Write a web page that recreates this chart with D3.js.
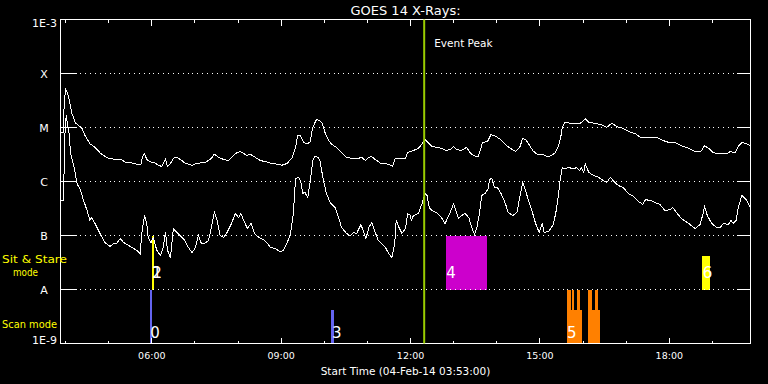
<!DOCTYPE html>
<html><head><meta charset="utf-8">
<script src="https://cdn.jsdelivr.net/npm/d3@7"></script>
<style>
html,body{margin:0;padding:0;background:#000;}
svg{display:block;}
text{font-family:"DejaVu Sans",sans-serif;fill:#fff;}
</style></head><body>
<svg id="chart" width="768" height="384"></svg>
<script>
// ---------- data ----------
const titleText = "GOES 14 X-Rays:";
const xLabelText = "Start Time (04-Feb-14 03:53:00)";
const startTime = "03:53", endTime = "19:53";
const majorTickHours = ["06:00","09:00","12:00","15:00","18:00"];
const yTickValues = [1e-9,1e-8,1e-7,1e-6,1e-5,1e-4,1e-3];
const yTickLabels = ["1E-9","A","B","C","M","X","1E-3"];
const peakTime = "12:19";
const peakLabel = "Event Peak";

const longTimes = [
"03:54","03:57","03:58","04:00","04:04","04:09","04:14","04:18","04:23","04:27",
"04:34","04:41","04:48","04:55","05:00","05:07","05:16","05:23","05:32","05:39",
"05:45","05:47","05:50","05:53","05:58","06:05","06:09","06:14","06:19","06:22",
"06:26","06:30","06:35","06:40","06:46","06:56","07:00","07:07","07:16","07:23",
"07:27","07:33","07:40","07:47","07:51","07:58","08:03","08:08","08:12","08:17",
"08:24","08:31","08:40","08:47","08:54","09:01","09:08","09:15","09:20","09:23",
"09:27","09:31","09:36","09:40","09:44","09:49","09:53","09:57","10:01","10:06",
"10:11","10:17","10:24","10:31","10:38","10:48","10:52","10:57","11:02","11:06",
"11:11","11:18","11:25","11:32","11:35","11:39","11:46","11:53","11:56","12:00",
"12:04","12:11","12:16","12:20","12:24","12:30","12:36","12:43","12:50","12:55",
"13:00","13:04","13:11","13:18","13:23","13:28","13:34","13:37","13:40","13:47",
"13:52","13:59","14:05","14:12","14:19","14:26","14:32","14:36","14:40","14:45",
"14:50","14:56","15:03","15:10","15:16","15:21","15:26","15:30","15:31","15:35",
"15:42","15:49","15:56","16:01","16:03","16:08","16:17","16:28","16:33","16:40",
"16:47","16:56","17:06","17:13","17:20","17:43","17:52","17:59","18:08","18:17",
"18:27","18:36","18:44","18:49","18:55","19:01","19:08","19:20","19:25","19:32",
"19:35","19:41","19:48","19:53"];
const longFlux = [
8.1e-6,8.1e-6,2.5e-5,5.3e-5,3.9e-5,1.8e-5,1.2e-5,1.1e-5,9.6e-6,7.1e-6,
5.0e-6,4.3e-6,3.4e-6,2.9e-6,2.7e-6,2.6e-6,2.6e-6,2.3e-6,2.2e-6,2.1e-6,
2.1e-6,2.8e-6,3.3e-6,2.55e-6,2.3e-6,2.2e-6,2.0e-6,1.9e-6,2.55e-6,1.9e-6,
2.15e-6,2.7e-6,2.8e-6,2.55e-6,2.2e-6,2.0e-6,2.1e-6,2.2e-6,2.3e-6,2.7e-6,
3.2e-6,2.8e-6,2.55e-6,2.45e-6,2.8e-6,3.4e-6,3.6e-6,3.3e-6,3.0e-6,3.2e-6,
2.8e-6,2.45e-6,2.3e-6,2.15e-6,2.1e-6,2.0e-6,2.15e-6,2.7e-6,4.3e-6,7.1e-6,
7.1e-6,5.3e-6,5.0e-6,5.3e-6,1.0e-5,1.4e-5,1.35e-5,1.2e-5,8.1e-6,5.7e-6,
4.8e-6,4.3e-6,3.4e-6,2.8e-6,2.7e-6,2.7e-6,2.8e-6,2.45e-6,2.8e-6,2.9e-6,
2.55e-6,2.2e-6,2.15e-6,2.0e-6,1.9e-6,2.7e-6,2.7e-6,2.7e-6,3.4e-6,3.6e-6,
3.75e-6,4.1e-6,5.0e-6,6.0e-6,5.3e-6,4.45e-6,4.3e-6,4.1e-6,3.75e-6,3.9e-6,
4.45e-6,3.9e-6,3.75e-6,4.3e-6,3.4e-6,3.0e-6,2.9e-6,3.75e-6,5.3e-6,5.5e-6,
7.4e-6,6.8e-6,6.0e-6,4.8e-6,4.1e-6,3.6e-6,4.3e-6,6.3e-6,6.0e-6,4.8e-6,
3.75e-6,3.2e-6,3.2e-6,2.9e-6,3.0e-6,3.4e-6,4.6e-6,7.7e-6,1.0e-5,1.24e-5,
1.2e-5,1.2e-5,1.2e-5,1.35e-5,1.47e-5,1.24e-5,1.2e-5,1.1e-5,1.0e-5,1.2e-5,
1.04e-5,9.6e-6,8.1e-6,7.7e-6,6.5e-6,6.5e-6,5.7e-6,5.3e-6,5.3e-6,4.6e-6,
4.1e-6,3.6e-6,3.6e-6,4.6e-6,4.1e-6,3.4e-6,3.3e-6,3.3e-6,3.6e-6,3.4e-6,
4.3e-6,5.3e-6,5.0e-6,4.6e-6];

const shortTimes = [
"03:54","03:57","03:58","03:59","04:01","04:02","04:05","04:07","04:12","04:16",
"04:21","04:25","04:30","04:34","04:36","04:41","04:48","04:55","05:02","05:07",
"05:11","05:16","05:21","05:30","05:39","05:44","05:46","05:50","05:53","05:55",
"05:59","06:02","06:07","06:12","06:16","06:19","06:22","06:26","06:30","06:35",
"06:42","06:46","06:51","06:56","07:00","07:05","07:09","07:13","07:19","07:23",
"07:27","07:31","07:35","07:40","07:44","07:51","07:56","08:01","08:04","08:08",
"08:13","08:18","08:23","08:29","08:35","08:40","08:45","08:52","08:59","09:03",
"09:08","09:13","09:17","09:20","09:24","09:27","09:30","09:33","09:37","09:40",
"09:44","09:47","09:51","09:54","09:58","10:03","10:08","10:15","10:20","10:24",
"10:31","10:36","10:41","10:45","10:51","10:55","10:58","11:02","11:06","11:11",
"11:15","11:20","11:25","11:29","11:34","11:38","11:40","11:44","11:48","11:53",
"11:56","12:00","12:01","12:04","12:11","12:16","12:20","12:23","12:26","12:30",
"12:36","12:43","12:48","12:52","12:55","13:00","13:03","13:07","13:11","13:16",
"13:21","13:25","13:29","13:32","13:36","13:39","13:44","13:48","13:50","13:53",
"13:57","14:01","14:06","14:12","14:16","14:22","14:28","14:33","14:36","14:40",
"14:45","14:50","14:54","14:59","15:03","15:06","15:12","15:18","15:22","15:26",
"15:28","15:31","15:35","15:40","15:47","15:51","15:55","15:58","16:01","16:03",
"16:08","16:15","16:22","16:28","16:33","16:38","16:42","16:47","16:52","16:56",
"17:03","17:10","17:17","17:23","17:27","17:34","17:40","17:47","17:54","18:01",
"18:05","18:11","18:17","18:27","18:36","18:43","18:47","18:49","18:53","18:59",
"19:06","19:11","19:15","19:22","19:26","19:29","19:33","19:36","19:41","19:46",
"19:50","19:53"];
const shortFlux = [
4.5e-7,4.5e-7,1.6e-6,7.1e-6,1.7e-5,1.35e-5,7.7e-6,3.3e-6,1.8e-6,9.2e-7,
6.8e-7,4.5e-7,2.9e-7,1.9e-7,2.15e-7,1.67e-7,1.09e-7,7.4e-8,6.3e-8,7.1e-8,
7.1e-8,8.8e-8,7.4e-8,6.3e-8,5.3e-8,4.6e-8,1.09e-7,2.34e-7,1.67e-7,9.2e-8,
7.4e-8,9.2e-8,5.3e-8,4.3e-8,6.0e-8,1.14e-7,5.3e-8,3.9e-8,1.35e-7,1.14e-7,
9.2e-8,8.1e-8,6.0e-8,4.8e-8,5.7e-8,1.0e-7,7.1e-8,7.1e-8,8.1e-8,1.41e-7,
2.7e-7,1.9e-7,1.0e-7,9.2e-8,1.09e-7,1.67e-7,2.55e-7,2.15e-7,2.55e-7,1.9e-7,
1.35e-7,1.67e-7,1.09e-7,9.2e-8,8.4e-8,7.4e-8,6.0e-8,5.7e-8,5.0e-8,5.3e-8,
7.1e-8,1.09e-7,2.55e-7,1.14e-6,1.19e-6,1.04e-6,6.0e-7,6.3e-7,5.05e-7,9.2e-7,
2.45e-6,2.9e-6,2.8e-6,2.45e-6,1.19e-6,6.0e-7,4.1e-7,3.3e-7,2.15e-7,1.41e-7,
1.09e-7,1.0e-7,1.14e-7,1.09e-7,1.6e-7,1.14e-7,8.8e-8,1.41e-7,1.74e-7,1.14e-7,
8.1e-8,7.1e-8,6.0e-8,4.8e-8,3.9e-8,7.1e-8,1.9e-7,1.41e-7,1.09e-7,1.35e-7,
2.55e-7,2.34e-7,1.9e-7,2.34e-7,2.55e-7,3.9e-7,6.0e-7,5.5e-7,3.3e-7,2.9e-7,
2.66e-7,2.15e-7,1.67e-7,2.15e-7,2.66e-7,3.9e-7,2.9e-7,2.06e-7,2.34e-7,2.55e-7,
2.15e-7,1.41e-7,1.04e-7,1.35e-7,2.55e-7,5.5e-7,6.0e-7,7.4e-7,1.09e-6,1.14e-6,
7.7e-7,7.7e-7,6.0e-7,3.9e-7,2.66e-7,2.34e-7,2.66e-7,6.0e-7,9.6e-7,6.8e-7,
4.1e-7,2.55e-7,1.67e-7,1.14e-7,1.67e-7,1.14e-7,1.19e-7,1.53e-7,2.55e-7,6.0e-7,
1.04e-6,1.8e-6,1.74e-6,1.8e-6,1.74e-6,1.8e-6,1.6e-6,1.8e-6,1.47e-6,2.15e-6,
1.47e-6,1.29e-6,1.19e-6,1.04e-6,9.6e-7,1.19e-6,1.04e-6,8.8e-7,8.1e-7,7.7e-7,
6.0e-7,5.3e-7,4.3e-7,3.75e-7,4.6e-7,4.45e-7,4.1e-7,3.75e-7,2.9e-7,3.0e-7,
3.3e-7,2.55e-7,2.06e-7,1.67e-7,1.35e-7,1.6e-7,2.55e-7,3.44e-7,2.34e-7,1.67e-7,
1.41e-7,1.41e-7,1.67e-7,1.6e-7,1.9e-7,1.67e-7,1.9e-7,3.3e-7,5.5e-7,4.8e-7,
3.9e-7,3.2e-7];

// observing events (bars): event id, mode, start, end, top flux level
const barEvent = ["0","2","3","4","5","5","5","5","5","5","5","6"];
const barMode  = ["scan","stare","scan","stare","scan","scan","scan","scan","scan","scan","scan","stare"];
const barStart = ["05:57","06:00","10:10","12:49","15:37","16:07","15:37","15:45","15:51","16:07","16:16","18:46"];
const barEnd   = ["06:00","06:03","10:13","13:47","15:59","16:23","15:43","15:48","15:56","16:13","16:21","18:56"];
const barTop   = [1e-8,1e-7,4.1e-9,1e-7,4.1e-9,4.1e-9,1e-8,1e-8,1e-8,1e-8,1e-8,4.1e-8];
const modeFloor = {scan:1e-9, stare:1e-8};

const labelIds   = ["0","1","2","3","4","5","6"];
const labelTimes = ["05:57","06:00","06:00","10:10","12:49","15:37","18:46"];
const labelModes = ["scan","stare","stare","scan","stare","scan","stare"];

const eventColors = {"0":"#6464f0","1":"#ffff00","2":"#ffff00","3":"#6464f0","4":"#cc00cc","5":"#ff8000","6":"#ffff00"};

// ---------- drawing ----------
const svg = d3.select("#chart");
svg.append("rect").attr("width",768).attr("height",384).attr("fill","#000");

const parseT = d3.utcParse("%H:%M");
const x = d3.scaleUtc().domain([parseT(startTime), parseT(endTime)]).range([60.5, 750.5]);
const y = d3.scaleLog().domain([yTickValues[0], yTickValues[yTickValues.length-1]]).range([343.5, 19.5]);
const [x0, x1] = x.range();
const [yB, yT] = y.range();

// bars
const bars = barStart.map((s,i)=>({id:barEvent[i], mode:barMode[i], t0:parseT(s), t1:parseT(barEnd[i]), top:barTop[i]}));
svg.append("g").selectAll("rect").data(bars).join("rect")
  .attr("x", d=>x(d.t0)).attr("width", d=>x(d.t1)-x(d.t0))
  .attr("y", d=>y(d.top)).attr("height", d=>y(modeFloor[d.mode])-y(d.top))
  .attr("fill", d=>eventColors[d.id]).attr("shape-rendering","crispEdges");

// dotted grid
svg.append("g").selectAll("line").data(yTickValues.slice(1,-1)).join("line")
  .attr("x1", x0+15).attr("x2", x1-14).attr("y1", d=>y(d)).attr("y2", d=>y(d))
  .attr("stroke","#fff").attr("stroke-width",1).attr("stroke-dasharray","1,3.87")
  .attr("shape-rendering","crispEdges");

// axes (ticks only)
const hourTicks = d3.utcHour.range(d3.utcHour.ceil(x.domain()[0]), x.domain()[1]);
const majorTicks = majorTickHours.map(parseT);
function tickAxis(axisFn, scale, values, size, tr){
  const g = svg.append("g").attr("transform", tr).attr("color","#fff");
  g.call(axisFn(scale).tickValues(values).tickSize(size).tickFormat("").offset(0));
  g.select(".domain").remove();
  g.selectAll("line").attr("shape-rendering","crispEdges");
  return g;
}
tickAxis(d3.axisBottom, x, hourTicks, -3, `translate(0,${yB})`);
tickAxis(d3.axisBottom, x, majorTicks, -6, `translate(0,${yB})`);
tickAxis(d3.axisTop, x, hourTicks, -3, `translate(0,${yT})`);
tickAxis(d3.axisTop, x, majorTicks, -6, `translate(0,${yT})`);
tickAxis(d3.axisLeft, y, yTickValues, -15, `translate(${x0},0)`);
tickAxis(d3.axisRight, y, yTickValues, -14, `translate(${x1},0)`);

// x tick labels
const gxl = svg.append("g").attr("transform",`translate(0,${yB})`).attr("color","#fff");
gxl.call(d3.axisBottom(x).tickValues(majorTicks).tickSize(0).tickPadding(9).offset(0).tickFormat(d3.utcFormat("%H:%M")));
gxl.select(".domain").remove();
gxl.selectAll("text").attr("font-family","DejaVu Sans").attr("font-size",9.5).attr("fill","#fff");

// frame
svg.append("rect").attr("x",x0).attr("y",yT).attr("width",x1-x0).attr("height",yB-yT)
  .attr("fill","none").attr("stroke","#fff").attr("stroke-width",1).attr("shape-rendering","crispEdges");

// y labels
svg.append("g").selectAll("text").data(yTickValues).join("text")
  .text((d,i)=>yTickLabels[i])
  .attr("x",(d,i)=>yTickLabels[i].startsWith("1E") ? 57 : 44)
  .attr("text-anchor",(d,i)=>yTickLabels[i].startsWith("1E") ? "end" : "middle")
  .attr("y", d=>Math.max(yT+3.5, Math.min(yB-3.2, y(d)))+4)
  .attr("font-size",11);

// curves
const line = d3.line().x(d=>x(d.t)).y(d=>y(d.f));
const longData = longTimes.map((t,i)=>({t:parseT(t), f:longFlux[i]}));
const shortData = shortTimes.map((t,i)=>({t:parseT(t), f:shortFlux[i]}));
[longData, shortData].forEach(data=>{
  svg.append("path").datum(data).attr("d",line).attr("fill","none")
    .attr("stroke","#fff").attr("stroke-width",1).attr("shape-rendering","crispEdges");
});

// event labels
const labelOffset = {scan:-5.5, stare:-12};
svg.append("g").selectAll("text").data(labelIds).join("text")
  .text(d=>d)
  .attr("x",(d,i)=>x(parseT(labelTimes[i]))+0.5)
  .attr("y",(d,i)=>y(modeFloor[labelModes[i]])+labelOffset[labelModes[i]])
  .attr("font-size",15);

// event peak line
const xp = x(parseT(peakTime));
svg.append("line").attr("x1",xp).attr("x2",xp).attr("y1",yT).attr("y2",yB)
  .attr("stroke","#99cc00").attr("stroke-width",2);
svg.append("text").attr("x",xp+10).attr("y",47).attr("font-size",10.5).text(peakLabel);

// titles
svg.append("text").attr("x",(x0+x1)/2).attr("y",15).attr("text-anchor","middle").attr("font-size",13).text(titleText);
svg.append("text").attr("x",(x0+x1)/2).attr("y",375).attr("text-anchor","middle").attr("font-size",10.5).text(xLabelText);

// mode labels
const modeTexts = [["Sit & Stare",2,262.5,65],["mode",13,275.5,25],["Scan mode",2,328,55]];
svg.append("g").selectAll("text").data(modeTexts).join("text")
  .text(d=>d[0]).attr("x",d=>d[1]).attr("y",d=>d[2])
  .attr("textLength",d=>d[3]).attr("lengthAdjust","spacingAndGlyphs")
  .attr("font-size",10.5).style("fill","#ffff00");
</script>
</body></html>
